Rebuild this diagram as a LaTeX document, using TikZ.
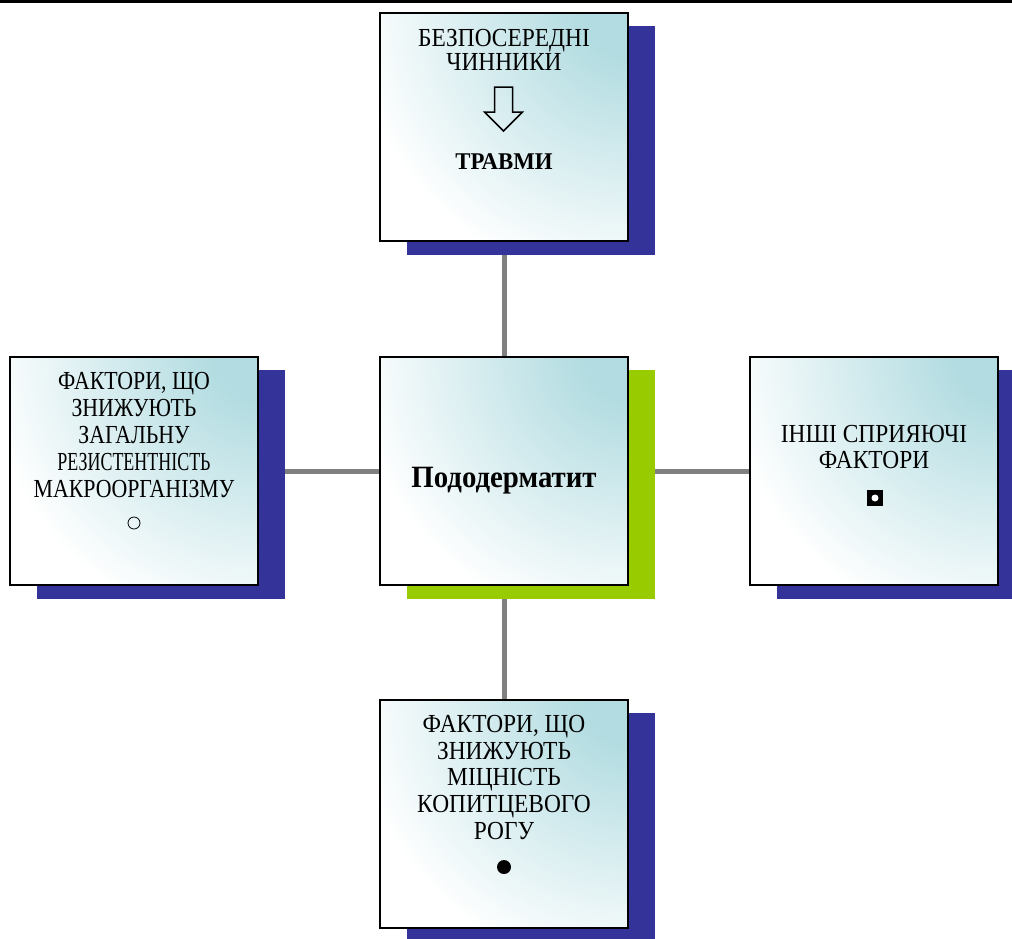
\documentclass[tikz,border=0pt]{standalone}
\usepackage{fontspec}
\setmainfont{Liberation Serif}
\usetikzlibrary{backgrounds}
\definecolor{tealc}{RGB}{178,220,225}
\definecolor{shadowblue}{RGB}{51,51,153}
\definecolor{shadowgreen}{RGB}{153,204,0}
\definecolor{linegray}{RGB}{128,128,128}
\pgfdeclareradialshading{tealrad}{\pgfpoint{0bp}{0bp}}{color(0bp)=(tealc); color(3bp)=(tealc); color(19bp)=(white); color(50bp)=(white)}
\newcommand{\cx}[2][0.9]{\scalebox{#1}[1]{#2}}
\begin{document}
\begin{tikzpicture}[x=1pt,y=-1pt,
  box/.style={draw=black, line width=1.5pt,
    minimum width=248pt, minimum height=228pt, inner sep=0pt, outer sep=0pt, anchor=north west},
  txt/.style={font=\fontsize{26}{27}\selectfont, align=center, inner sep=0pt, anchor=north},
  conn/.style={draw=linegray, line width=5pt},
  shad/.style={fill=shadowblue}]
\useasboundingbox (0,0) rectangle (1012,938);
\fill[black] (0,0) rectangle (1012,2.5);
% boxes
\node[box] (top) at (380,13) {};
\node[box] (center) at (380,357) {};
\node[box] (left) at (10,357) {};
\node[box] (right) at (750,357) {};
\node[box] (bottom) at (380,700) {};
\begin{scope}[on background layer]
  \draw[conn] (top.south) -- (center.north);
  \draw[conn] (center.south) -- (bottom.north);
  \draw[conn] (left.east) -- (center.west);
  \draw[conn] (center.east) -- (right.west);
  \foreach \b in {top,left,right,bottom}{
    \fill[shad] ([shift={(27,13)}]\b.north west) rectangle ([shift={(27,14)}]\b.south east);
  }
  \fill[shadowgreen] ([shift={(27,13)}]center.north west) rectangle ([shift={(27,14)}]center.south east);
  \foreach \b in {top,center,left,right,bottom}{
    \begin{scope}
      \clip (\b.north west) rectangle (\b.south east);
      \fill[white] (\b.north west) rectangle (\b.south east);
      \shade[shading=tealrad] (\b.north east) circle (360);
    \end{scope}
  }
\end{scope}
% texts
\node[txt, font=\fontsize{26}{24}\selectfont] (toptext) at (504,29) {\cx{БЕЗПОСЕРЕДНІ}\\\cx{ЧИННИКИ}};
\node[txt, font=\bfseries\fontsize{24}{24}\selectfont] (trauma) at (504,153) {\cx[0.95]{ТРАВМИ}};
\draw[line width=1.5pt, line join=miter] (494.5,87) -- (512.5,87) -- (512.5,112) -- (522.5,112)
  -- (503.5,131) -- (484.5,112) -- (494.5,112) -- cycle;
\node[font=\bfseries\fontsize{31}{32}\selectfont, inner sep=0pt, anchor=base] (ctext) at (504,487) {\cx[0.93]{Пододерматит}};
\node[txt, font=\fontsize{26}{27}\selectfont] (ltext) at (134,372)
  {\cx[0.84]{ФАКТОРИ, ЩО}\\\cx[0.84]{ЗНИЖУЮТЬ}\\\cx[0.84]{ЗАГАЛЬНУ}\\\cx[0.69]{РЕЗИСТЕНТНІСТЬ}\\\cx[0.84]{МАКРООРГАНІЗМУ}};
\draw[line width=0.8pt] (134,523) circle (6);
\node[txt, font=\fontsize{26}{26}\selectfont] (rtext) at (874,425) {\cx{ІНШІ СПРИЯЮЧІ}\\\cx{ФАКТОРИ}};
\fill[black] (867,490) rectangle (883,506);
\fill[white] (875,498) circle (3.5);
\node[txt, font=\fontsize{26}{26.7}\selectfont] (btext) at (504,715) {\cx{ФАКТОРИ, ЩО}\\\cx{ЗНИЖУЮТЬ}\\\cx{МІЦНІСТЬ}\\\cx{КОПИТЦЕВОГО}\\\cx{РОГУ}};
\fill[black] (504,867) circle (7);
\end{tikzpicture}
\end{document}
